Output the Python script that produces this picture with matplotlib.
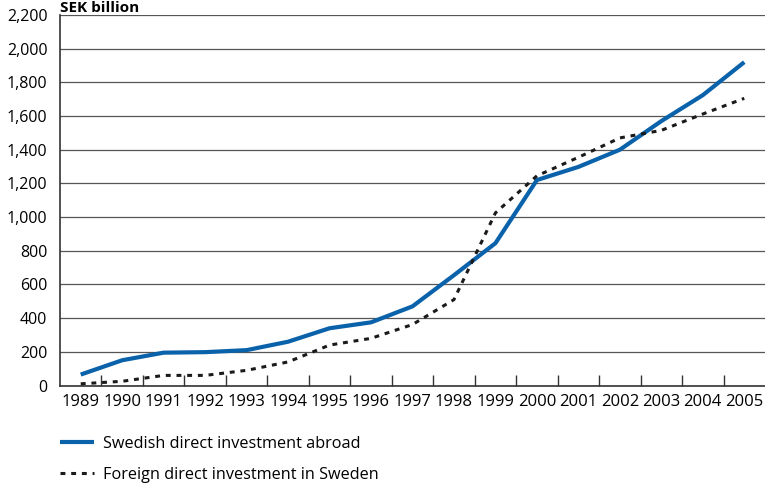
import numpy as np
import matplotlib.pyplot as plt
from matplotlib.ticker import FuncFormatter

plt.rcParams['font.family'] = ['Open Sans', 'DejaVu Sans']

# data (SEK billion)
years = ['1989', '1990', '1991', '1992', '1993', '1994', '1995', '1996', '1997',
         '1998', '1999', '2000', '2001', '2002', '2003', '2004', '2005']
swedish_abroad = [65, 150, 195, 198, 210, 260, 340, 375, 470,
                  655, 845, 1220, 1298, 1400, 1570, 1724, 1920]
foreign_in_sweden = [10, 25, 60, 60, 90, 140, 240, 280, 362,
                     510, 1025, 1245, 1355, 1470, 1515, 1612, 1705]
y_ticks = np.arange(0, 2201, 200)

fig = plt.figure(figsize=(7.65, 4.84), dpi=100)
ax = fig.add_axes([60 / 765, 98.5 / 484, 705 / 765, 370.5 / 484])

x = np.arange(len(years))
ax.plot(x, swedish_abroad, color='#0a62ab', lw=3.0, solid_capstyle='butt',
        label='Swedish direct investment abroad', zorder=3)
ax.plot(x, foreign_in_sweden, color='#1a1a1a', lw=2.2, dashes=(1.6, 1.9),
        label='Foreign direct investment in Sweden', zorder=4)

ax.set_xlim(-0.5, len(years) - 0.5)
ax.set_ylim(0, 2200)
ax.set_yticks(y_ticks)
ax.yaxis.set_major_formatter(FuncFormatter(lambda v, p: f'{int(v):,}'))
ax.grid(axis='y', color='#555555', lw=0.9)
ax.set_axisbelow(True)

ax.set_xticks(x)
ax.set_xticklabels(years)
ax.set_xticks(np.arange(0.5, len(years) - 1, 1), minor=True)
ax.tick_params(axis='x', which='major', length=0, pad=6, labelsize=12)
ax.tick_params(axis='x', which='minor', direction='in', length=8, width=1, color='#333333')
ax.tick_params(axis='y', length=0, pad=9, labelsize=11.5)

for s in ['top', 'right']:
    ax.spines[s].set_visible(False)
for s in ['left', 'bottom']:
    ax.spines[s].set_color('#333333')
    ax.spines[s].set_linewidth(1.2)

# the title sits right at the top edge, as in the source
fig.text(60 / 765, 1 - 12 / 484, 'SEK billion', fontsize=11, fontweight='bold',
         va='baseline', ha='left')

ax.legend(loc='upper left', bbox_to_anchor=(-0.009, -0.118), frameon=False,
          fontsize=11.7, handlelength=2.1, handletextpad=0.55, labelspacing=0.95,
          borderaxespad=0)

fig.savefig('out.png', dpi=100)
